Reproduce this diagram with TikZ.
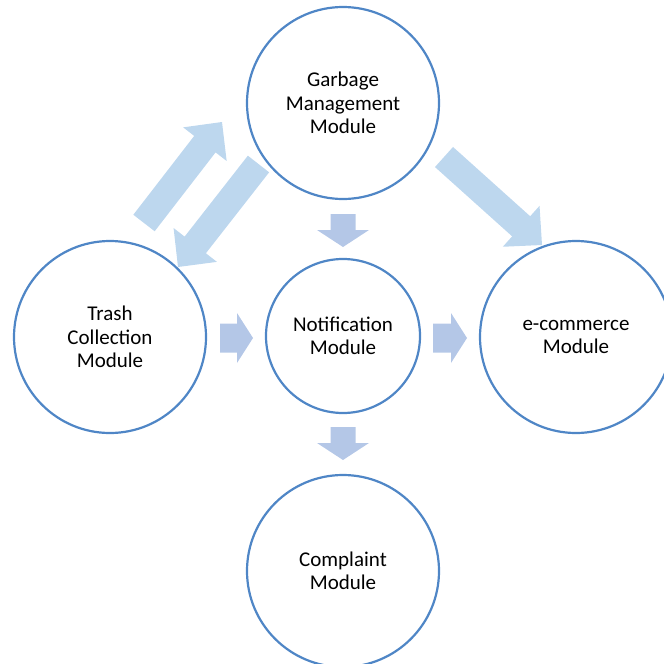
\documentclass[tikz,border=0pt]{standalone}
\usepackage{fontspec}
\setmainfont{Carlito}
\usetikzlibrary{calc}
\definecolor{ringblue}{HTML}{4F86C6}
\definecolor{paleblue}{HTML}{BDD7EE}
\definecolor{softblue}{HTML}{B4C7E7}
% #1 fill style, #2 tail, #3 tip, #4 half shaft width, #5 half head width, #6 head length
\newcommand\blockarrow[6]{%
  \coordinate (ba-neck) at ($(#3)!#6!(#2)$);
  \fill[#1] ($(#2)!#4!90:(#3)$) -- ($(ba-neck)!#4!90:(#3)$)
    -- ($(ba-neck)!#5!90:(#3)$) -- (#3)
    -- ($(ba-neck)!#5!-90:(#3)$) -- ($(ba-neck)!#4!-90:(#3)$)
    -- ($(#2)!#4!-90:(#3)$) -- cycle;}
\begin{document}
\begin{tikzpicture}[x=1pt,y=-1pt,
  module/.style={circle, draw=ringblue, line width=2.2pt, inner sep=0pt,
    align=center, font=\fontsize{21}{23.5}\selectfont},
  bigmodule/.style={module, minimum size=192pt},
  bigflow/.style={fill=paleblue},
  smallflow/.style={fill=softblue}]
\useasboundingbox (0,0) rectangle (664,664);
\clip (0,0) rectangle (664,664);

% arrow end points
\coordinate (up-tail) at (144,223);
\coordinate (up-tip) at (222,122);
\coordinate (dn-tail) at (258.5,164);
\coordinate (dn-tip) at (178,267);
\coordinate (ec-tail) at (444,157);
\coordinate (ec-tip) at (542,245);
\coordinate (gn-tail) at (343,214);
\coordinate (gn-tip) at (343,247);
\coordinate (nc-tail) at (343,427);
\coordinate (nc-tip) at (343,460);
\coordinate (tn-tail) at (220,338);
\coordinate (tn-tip) at (253,338);
\coordinate (ne-tail) at (433,338);
\coordinate (ne-tip) at (467,338);

% flows
\blockarrow{bigflow}{up-tail}{up-tip}{13.5pt}{27.5pt}{28pt}
\blockarrow{bigflow}{dn-tail}{dn-tip}{13.5pt}{27.5pt}{28pt}
\blockarrow{bigflow}{ec-tail}{ec-tip}{13.5pt}{27.5pt}{28pt}
\blockarrow{smallflow}{gn-tail}{gn-tip}{12.5pt}{26pt}{17pt}
\blockarrow{smallflow}{nc-tail}{nc-tip}{12.5pt}{26pt}{17pt}
\blockarrow{smallflow}{tn-tail}{tn-tip}{14.5pt}{25pt}{16pt}
\blockarrow{smallflow}{ne-tail}{ne-tip}{14.5pt}{25pt}{16pt}

% modules
\node[bigmodule] (garbage) at (343,103) {Garbage\\Management\\Module};
\node[bigmodule] (trash) at (110,337) {Trash\\Collection\\Module};
\node[module, minimum size=154pt] (notify) at (343,336) {Notification\\Module};
\node[bigmodule] (shop) at (576,337) {e-commerce\\Module};
\node[bigmodule] (complaint) at (343,571) {Complaint\\Module};
\end{tikzpicture}
\end{document}
